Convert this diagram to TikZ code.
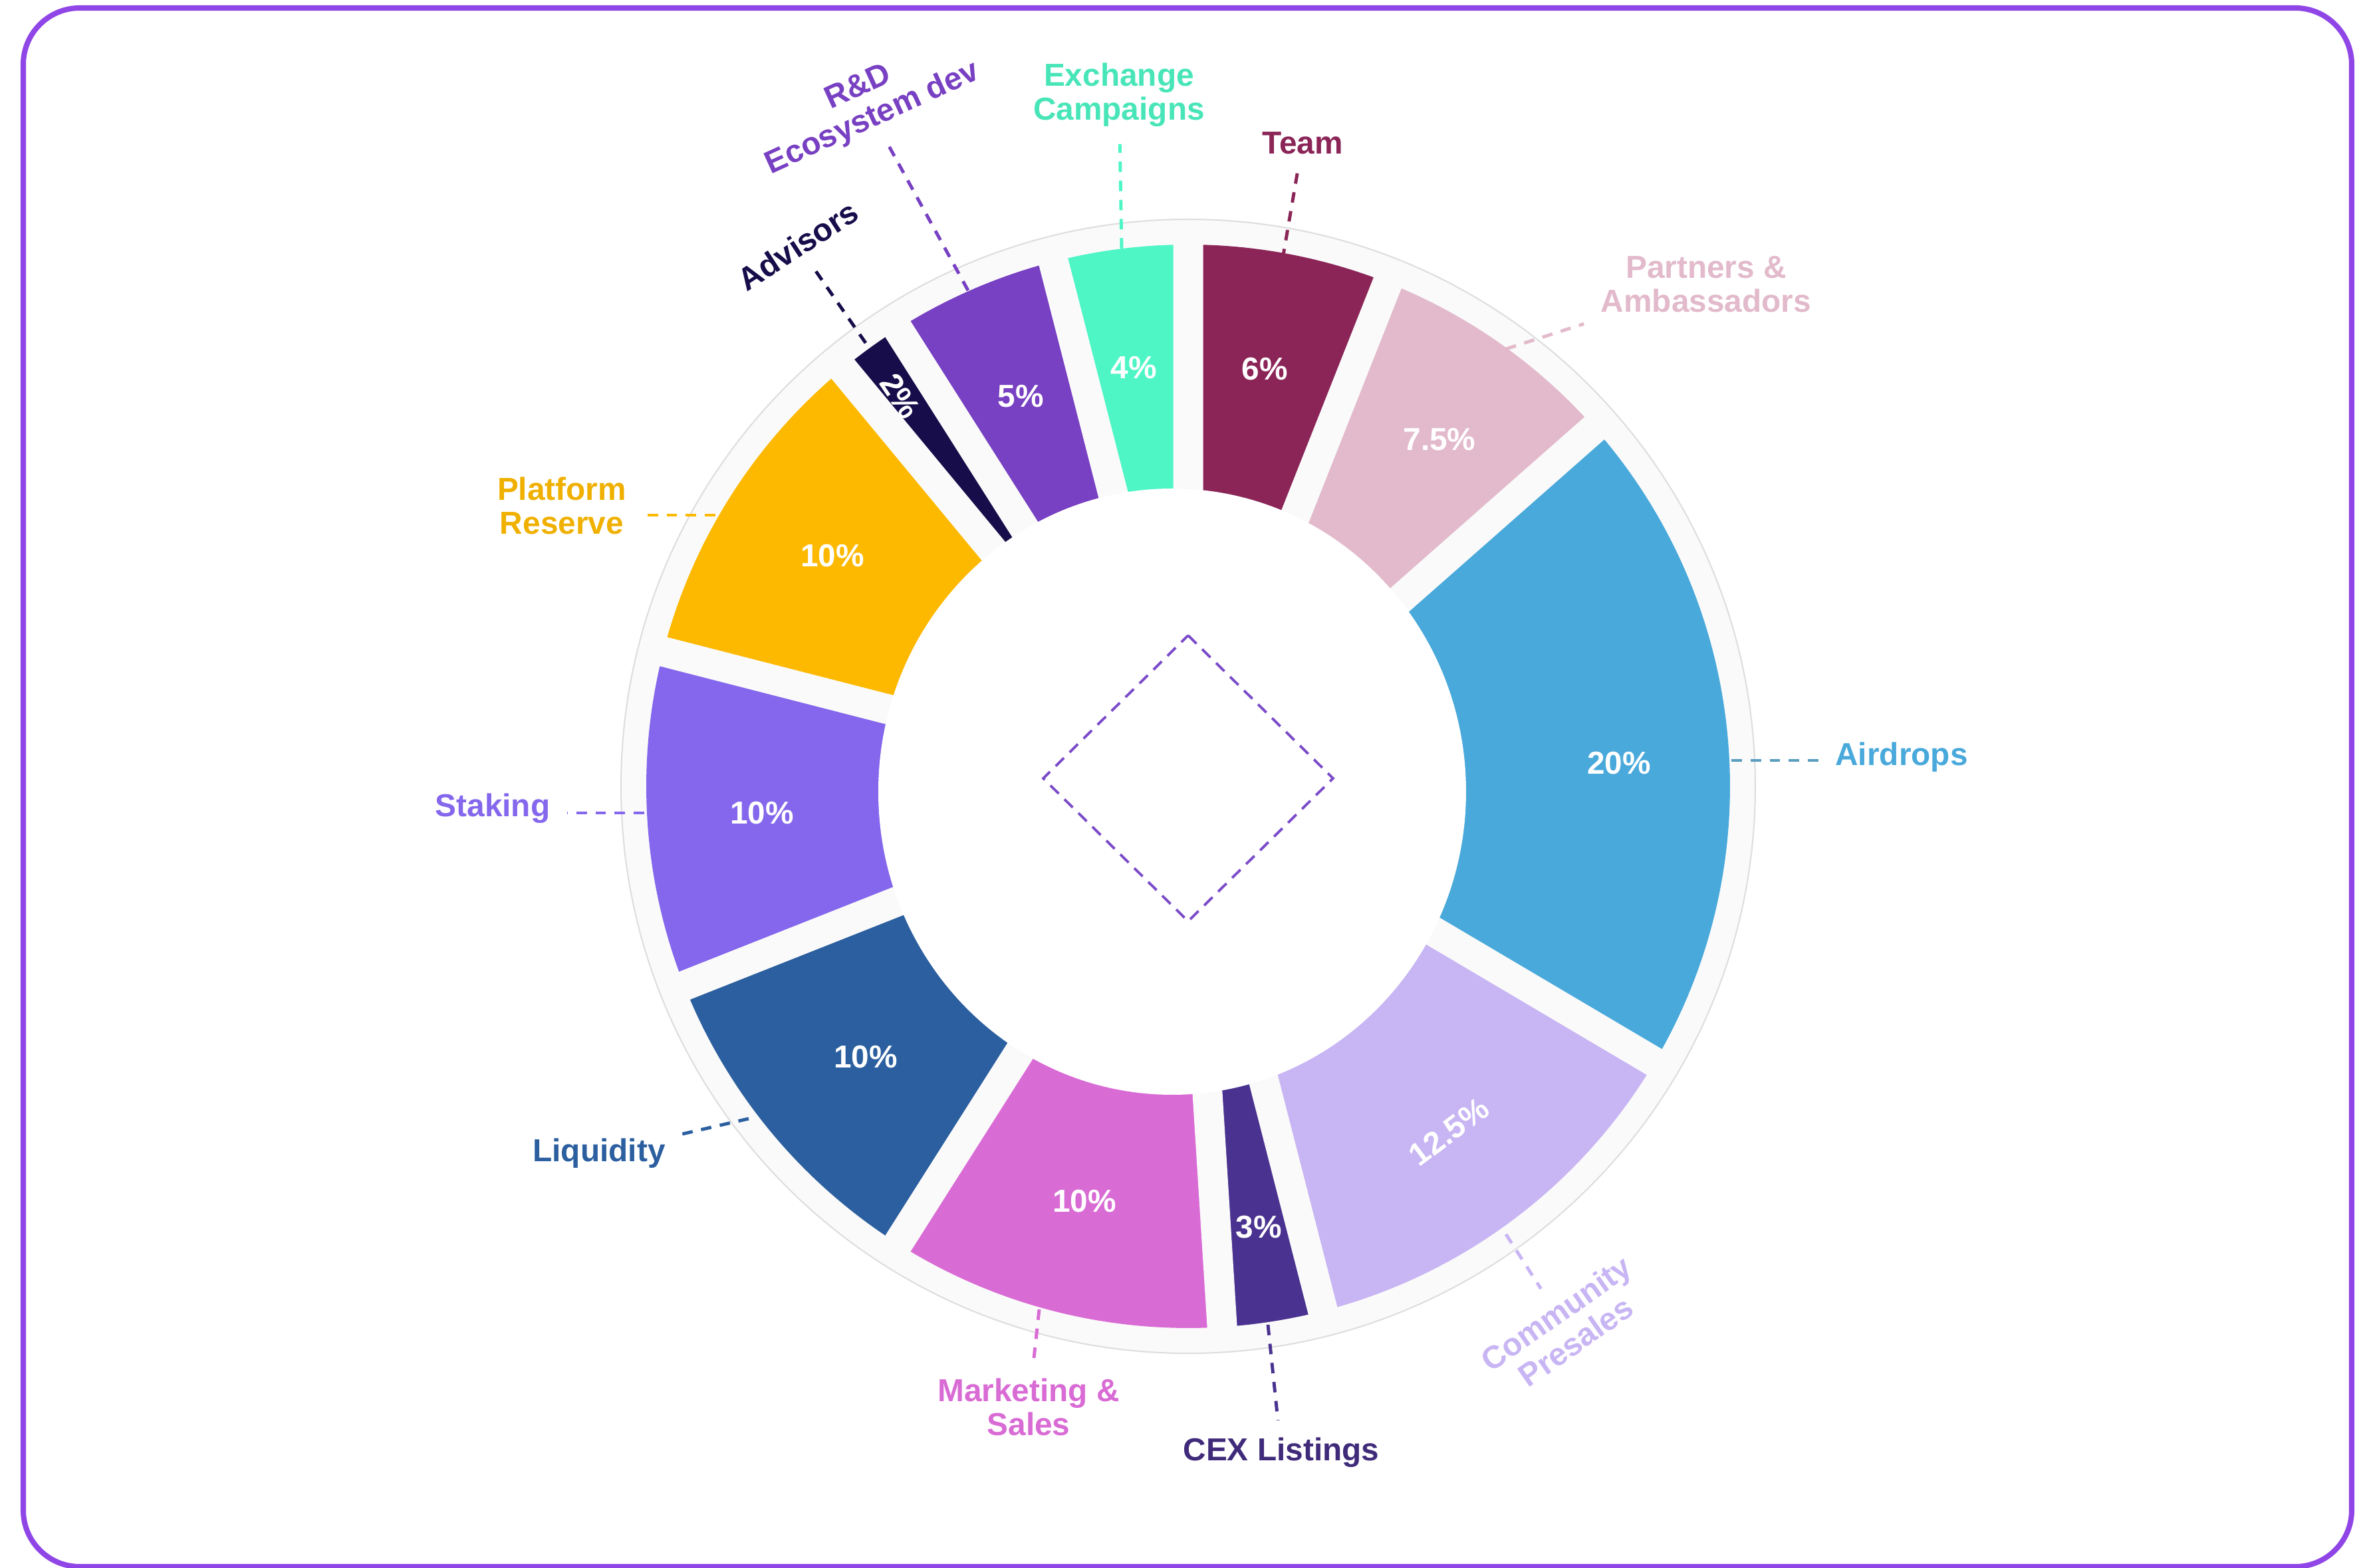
\documentclass[tikz,border=0pt]{standalone}
\usepackage{fontspec}
\setmainfont{Liberation Sans}
\definecolor{frame}{HTML}{9046E6}
\definecolor{ring}{HTML}{FAFAFA}
\definecolor{ringline}{HTML}{DEDEDE}
\definecolor{teamc}{HTML}{8B2558}
\definecolor{partnc}{HTML}{E2BACB}
\definecolor{airc}{HTML}{49A9DB}
\definecolor{presc}{HTML}{C8B5F3}
\definecolor{cexc}{HTML}{4A3390}
\definecolor{mktc}{HTML}{D96BD5}
\definecolor{liqc}{HTML}{2C5F9F}
\definecolor{stakc}{HTML}{8467EC}
\definecolor{platc}{HTML}{FDB900}
\definecolor{advc}{HTML}{170D4A}
\definecolor{rndc}{HTML}{7840C2}
\definecolor{exchc}{HTML}{4EF6C6}
\definecolor{diamc}{HTML}{7B4CC9}

\begin{document}
\begin{tikzpicture}
    \tikzstyle{every node}=[font=\fontsize{13.6}{14.6}\selectfont\bfseries, align=center, inner sep=0.25cm];
    \tikzstyle{pct}=[text=white, inner sep=0pt];
    \tikzstyle{gap}=[ring, line width=0.45cm];
    \tikzstyle{leader}=[line width=1.4pt, dash pattern=on 4.5pt off 3.7pt];
    \useasboundingbox (-17.87,-11.76) rectangle (17.64,11.83);
    \draw[frame, line width=2.3pt, rounded corners=0.85cm] (-17.52,-11.74) rectangle (17.50,11.71);

    % ring and slices, clockwise from the top
    \draw[ringline, fill=ring, line width=0.6pt] (0,0) circle (8.53);
    \fill[teamc] (0,0) -- (90:8.15) arc[start angle=90, end angle=68.4, radius=8.15] -- cycle;
    \fill[partnc] (0,0) -- (68.4:8.15) arc[start angle=68.4, end angle=41.4, radius=8.15] -- cycle;
    \fill[airc] (0,0) -- (41.4:8.15) arc[start angle=41.4, end angle=-30.6, radius=8.15] -- cycle;
    \fill[presc] (0,0) -- (-30.6:8.15) arc[start angle=-30.6, end angle=-75.6, radius=8.15] -- cycle;
    \fill[cexc] (0,0) -- (-75.6:8.15) arc[start angle=-75.6, end angle=-86.4, radius=8.15] -- cycle;
    \fill[mktc] (0,0) -- (-86.4:8.15) arc[start angle=-86.4, end angle=-122.4, radius=8.15] -- cycle;
    \fill[liqc] (0,0) -- (-122.4:8.15) arc[start angle=-122.4, end angle=-158.4, radius=8.15] -- cycle;
    \fill[stakc] (0,0) -- (-158.4:8.15) arc[start angle=-158.4, end angle=-194.4, radius=8.15] -- cycle;
    \fill[platc] (0,0) -- (165.6:8.15) arc[start angle=165.6, end angle=129.6, radius=8.15] -- cycle;
    \fill[advc] (0,0) -- (129.6:8.15) arc[start angle=129.6, end angle=122.4, radius=8.15] -- cycle;
    \fill[rndc] (0,0) -- (122.4:8.15) arc[start angle=122.4, end angle=104.4, radius=8.15] -- cycle;
    \fill[exchc] (0,0) -- (104.4:8.15) arc[start angle=104.4, end angle=90, radius=8.15] -- cycle;

    \draw[gap] (0,0)--(90:8.3)
    (0,0)--(68.4:8.3)
    (0,0)--(41.4:8.3)
    (0,0)--(-30.6:8.3)
    (0,0)--(-75.6:8.3)
    (0,0)--(-86.4:8.3)
    (0,0)--(-122.4:8.3)
    (0,0)--(-158.4:8.3)
    (0,0)--(165.6:8.3)
    (0,0)--(129.6:8.3)
    (0,0)--(122.4:8.3)
    (0,0)--(104.4:8.3);
    \fill[white] (-0.24,-0.08) ellipse [x radius=4.42, y radius=4.56];

    \draw[diamc, line width=1.1pt, dash pattern=on 5pt off 3.4pt] (0,2.27) -- (2.18,0.12) -- (0,-2.03) -- (-2.18,0.12) -- cycle;

    \node[pct] (p6) at (1.15,6.28) {6\%};
    \node[pct] (p75) at (3.78,5.22) {7.5\%};
    \node[pct] (p20) at (6.48,0.35) {20\%};
    \node[pct, rotate=37] (p125) at (3.92,-5.20) {12.5\%};
    \node[pct] (p3) at (1.06,-6.63) {3\%};
    \node[pct] (p10m) at (-1.56,-6.24) {10\%};
    \node[pct] (p10l) at (-4.85,-4.07) {10\%};
    \node[pct] (p10s) at (-6.41,-0.40) {10\%};
    \node[pct] (p10p) at (-5.35,3.47) {10\%};
    \node[pct, rotate=-56] (p2) at (-4.33,5.87) {2\%};
    \node[pct] (p5) at (-2.52,5.87) {5\%};
    \node[pct] (p4) at (-0.82,6.30) {4\%};

    \node[text=teamc] (team) at (1.72,9.68) {Team};
    \node[text=exchc!93!black] (exch) at (-1.04,10.40) {Exchange\\Campaigns};
    \node[text=rndc, rotate=24.5] (rnd) at (-4.85,10.27) {R\&D\\Ecosystem dev};
    \node[text=advc, rotate=33] (adv) at (-5.87,8.14) {Advisors};
    \node[text=platc!95!black] (plat) at (-9.42,4.22) {Platform\\Reserve};
    \node[text=stakc] (stak) at (-10.46,-0.33) {Staking};
    \node[text=liqc] (liq) at (-8.86,-5.52) {Liquidity};
    \node[text=mktc] (mkt) at (-2.40,-9.34) {Marketing \&\\Sales};
    \node[text=cexc!85!black] (cex) at (1.40,-10.02) {CEX Listings};
    \node[text=presc, rotate=35] (pres) at (5.68,-8.14) {Community\\Presales};
    \node[text=airc] (air) at (10.73,0.44) {Airdrops};
    \node[text=partnc] (partn) at (7.79,7.55) {Partners \&\\Ambassadors};

    \coordinate (teamP) at (1.42,7.93);
    \coordinate (exchP) at (-1.00,8.09);
    \coordinate (rndP) at (-3.31,7.46);
    \coordinate (advP) at (-4.85,6.67);
    \coordinate (platP) at (-7.11,4.08);
    \coordinate (stakP) at (-8.18,-0.40);
    \coordinate (liqP) at (-6.61,-5.00);
    \coordinate (mktP) at (-2.24,-7.87);
    \coordinate (cexP) at (1.20,-8.10);
    \coordinate (presP) at (4.78,-6.74);
    \coordinate (airP) at (8.17,0.39);
    \coordinate (partnP) at (4.78,6.58);

    \draw[leader, teamc] (teamP)--(team);
    \draw[leader, exchc] (exchP)--(exch);
    \draw[leader, rndc] (rndP)--(rnd);
    \draw[leader, advc] (advP)--(adv);
    \draw[leader, platc] (platP)--(platP -| plat.east);
    \draw[leader, stakc] (stakP)--(stakP -| stak.east);
    \draw[leader, liqc] (liqP)--(liq);
    \draw[leader, mktc] (mktP)--(mkt);
    \draw[leader, cexc] (cexP)--(cex);
    \draw[leader, presc] (presP)--(pres);
    \draw[leader, airc!70!gray] (airP)--(airP -| air.west);
    \draw[leader, partnc] (partnP)--(partn);
  \end{tikzpicture}
\end{document}
